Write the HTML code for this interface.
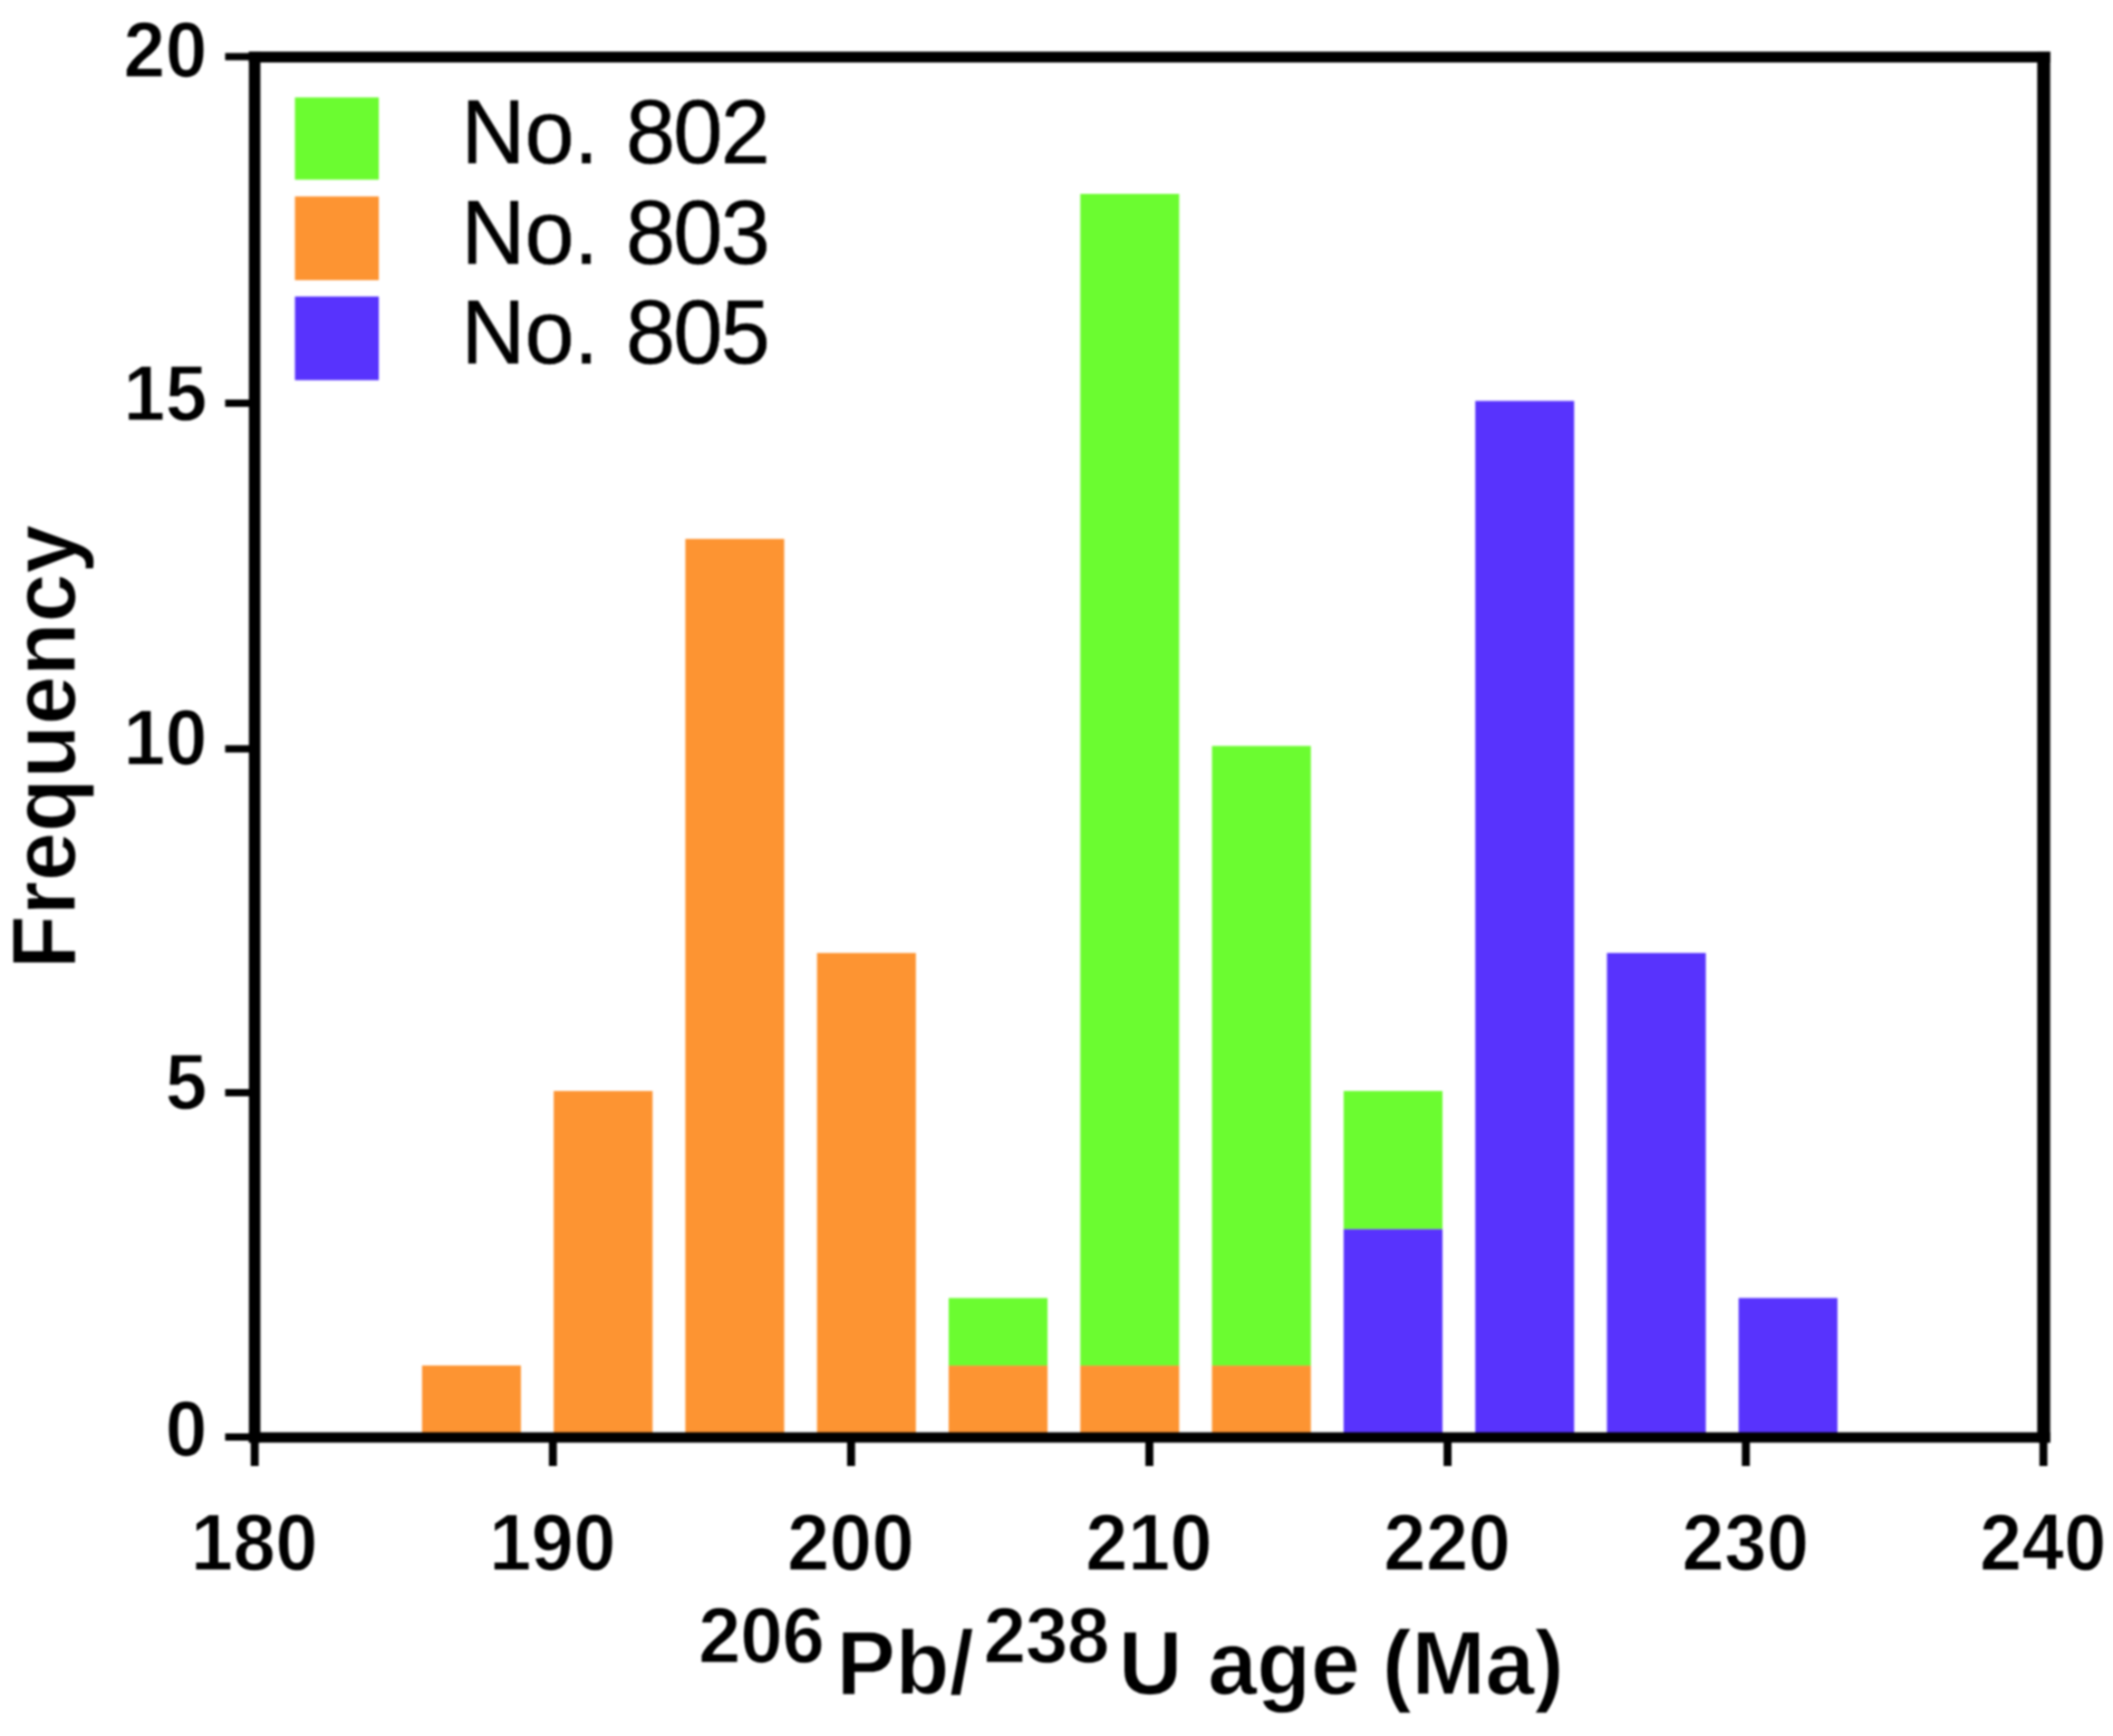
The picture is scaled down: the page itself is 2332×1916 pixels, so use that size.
<!DOCTYPE html>
<html lang="en"><head><meta charset="utf-8"><title>Frequency histogram of 206Pb/238U ages</title>
<style>
html,body{margin:0;padding:0;background:#fff;}
body{width:2332px;height:1916px;overflow:hidden;}
svg{display:block;filter:blur(1px);}
text{font-family:"Liberation Sans",Arial,Helvetica,sans-serif;fill:#000;stroke:#fff;stroke-width:1.3px;}
.b{font-weight:bold;}
.lg{stroke:#000;stroke-width:0.5px;}
</style></head><body>
<svg width="2332" height="1916" viewBox="0 0 2332 1916">
<rect x="0" y="0" width="2332" height="1916" fill="#ffffff"/>
<g>
<rect x="465.8" y="1507.1" width="109.1" height="79.1" fill="#fd9432"/>
<rect x="611.1" y="1204.1" width="109.1" height="382.1" fill="#fd9432"/>
<rect x="756.4" y="594.8" width="109.1" height="991.4" fill="#fd9432"/>
<rect x="901.7" y="1051.8" width="109.1" height="534.4" fill="#fd9432"/>
<rect x="1047.0" y="1507.1" width="109.1" height="79.1" fill="#fd9432"/>
<rect x="1047.0" y="1432.6" width="109.1" height="74.5" fill="#6bfc30"/>
<rect x="1192.3" y="1507.1" width="109.1" height="79.1" fill="#fd9432"/>
<rect x="1192.3" y="214.0" width="109.1" height="1293.1" fill="#6bfc30"/>
<rect x="1337.6" y="1507.1" width="109.1" height="79.1" fill="#fd9432"/>
<rect x="1337.6" y="823.3" width="109.1" height="683.8" fill="#6bfc30"/>
<rect x="1482.9" y="1356.4" width="109.1" height="229.8" fill="#5833fd"/>
<rect x="1482.9" y="1204.1" width="109.1" height="152.3" fill="#6bfc30"/>
<rect x="1628.2" y="442.5" width="109.1" height="1143.7" fill="#5833fd"/>
<rect x="1773.5" y="1051.8" width="109.1" height="534.4" fill="#5833fd"/>
<rect x="1918.8" y="1432.6" width="109.1" height="153.6" fill="#5833fd"/>
</g>
<rect x="325.5" y="107.5" width="92.6" height="90.8" fill="#6bfc30"/>
<text class="lg" transform="translate(0,180.2) scale(1,1.026)" font-size="98"><tspan x="508.9" letter-spacing="-0.3">No. </tspan><tspan x="690.7" letter-spacing="-2.1">802</tspan></text>
<rect x="325.5" y="216.8" width="92.6" height="92.4" fill="#fd9432"/>
<text class="lg" transform="translate(0,290.6) scale(1,1.026)" font-size="98"><tspan x="508.9" letter-spacing="-0.3">No. </tspan><tspan x="690.7" letter-spacing="-2.1">803</tspan></text>
<rect x="325.5" y="327.3" width="92.6" height="92.3" fill="#5833fd"/>
<text class="lg" transform="translate(0,400.7) scale(1,1.026)" font-size="98"><tspan x="508.9" letter-spacing="-0.3">No. </tspan><tspan x="690.7" letter-spacing="-2.1">805</tspan></text>
<g fill="#000">
<rect x="274.70" y="56.95" width="12.70" height="1535.25"/>
<rect x="2248.4" y="56.95" width="14.3" height="1535.25"/>
<rect x="274.70" y="56.95" width="1988.00" height="12.00"/>
<rect x="274.70" y="1580.8" width="1988.00" height="11.4"/>
</g>
<line x1="248.5" y1="1586.0" x2="281.1" y2="1586.0" stroke="#000" stroke-width="8"/>
<text class="b" transform="translate(228.6,1607.2) scale(1,1.053)" font-size="83" text-anchor="end">0</text>
<line x1="248.5" y1="1206.0" x2="281.1" y2="1206.0" stroke="#000" stroke-width="8"/>
<text class="b" transform="translate(228.6,1223.7) scale(1,1.053)" font-size="83" text-anchor="end">5</text>
<line x1="248.5" y1="826.4" x2="281.1" y2="826.4" stroke="#000" stroke-width="8"/>
<text class="b" transform="translate(228.6,843.8) scale(1,1.053)" font-size="83" text-anchor="end">10</text>
<line x1="248.5" y1="445.0" x2="281.1" y2="445.0" stroke="#000" stroke-width="8"/>
<text class="b" transform="translate(228.6,463.6) scale(1,1.053)" font-size="83" text-anchor="end">15</text>
<line x1="248.5" y1="62.6" x2="281.1" y2="62.6" stroke="#000" stroke-width="8"/>
<text class="b" transform="translate(228.6,84.6) scale(1,1.053)" font-size="83" text-anchor="end">20</text>
<line x1="281.1" y1="1586.2" x2="281.1" y2="1618" stroke="#000" stroke-width="8.8"/>
<text class="b" transform="translate(280.6,1732.6) scale(1,1.05)" font-size="84" text-anchor="middle">180</text>
<line x1="610.2" y1="1586.2" x2="610.2" y2="1618" stroke="#000" stroke-width="8.8"/>
<text class="b" transform="translate(609.7,1732.6) scale(1,1.05)" font-size="84" text-anchor="middle">190</text>
<line x1="939.3" y1="1586.2" x2="939.3" y2="1618" stroke="#000" stroke-width="8.8"/>
<text class="b" transform="translate(938.8,1732.6) scale(1,1.05)" font-size="84" text-anchor="middle">200</text>
<line x1="1268.5" y1="1586.2" x2="1268.5" y2="1618" stroke="#000" stroke-width="8.8"/>
<text class="b" transform="translate(1268.0,1732.6) scale(1,1.05)" font-size="84" text-anchor="middle">210</text>
<line x1="1597.6" y1="1586.2" x2="1597.6" y2="1618" stroke="#000" stroke-width="8.8"/>
<text class="b" transform="translate(1597.1,1732.6) scale(1,1.05)" font-size="84" text-anchor="middle">220</text>
<line x1="1926.8" y1="1586.2" x2="1926.8" y2="1618" stroke="#000" stroke-width="8.8"/>
<text class="b" transform="translate(1926.3,1732.6) scale(1,1.05)" font-size="84" text-anchor="middle">230</text>
<line x1="2255.2" y1="1586.2" x2="2255.2" y2="1618" stroke="#000" stroke-width="8.8"/>
<text class="b" transform="translate(2254.7,1732.6) scale(1,1.05)" font-size="84" text-anchor="middle">240</text>
<text class="b" transform="translate(82.6,1069.5) rotate(-90) scale(1.021,1.058)" font-size="95">Frequency</text>
<text class="b" transform="translate(0,1869.6) scale(1,1.025)" font-size="97.5"><tspan x="770.8" y="-33.5" font-size="84.3" letter-spacing="-0.7">206</tspan><tspan x="923.2" y="0">Pb/</tspan><tspan x="1085.5" y="-33.5" font-size="84.3" letter-spacing="-0.7">238</tspan><tspan x="1234.4" y="0">U </tspan><tspan x="1332.9">age </tspan><tspan x="1525.6">(Ma)</tspan></text>
</svg>
</body></html>
